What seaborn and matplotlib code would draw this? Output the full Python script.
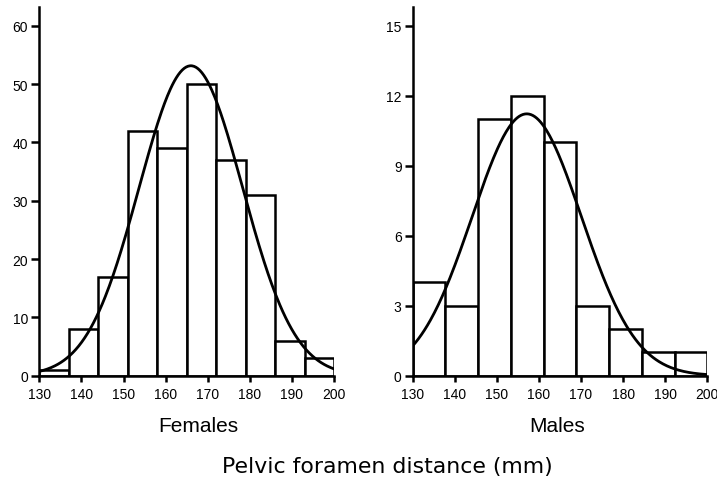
import numpy as np
import pandas as pd
import matplotlib
matplotlib.use("Agg")
import matplotlib.pyplot as plt
import seaborn as sns

# ---- data ----
fem_edges = [130, 137, 144, 151, 158, 165, 172, 179, 186, 193, 200]
fem_counts = [1, 8, 17, 42, 39, 50, 37, 31, 6, 3]
fem_mean, fem_sd = 166.0, 12.3

male_edges = [130, 137.78, 145.56, 153.33, 161.11, 168.89, 176.67, 184.44, 192.22, 200]
male_counts = [4, 3, 11, 12, 10, 3, 2, 1, 1]
male_mean, male_sd = 157.1, 13.0

fem_yticks = [0, 10, 20, 30, 40, 50, 60]
male_yticks = [0, 3, 6, 9, 12, 15]
xticks = [130, 140, 150, 160, 170, 180, 190, 200]

sns.set_theme(style="white")
plt.rcParams['font.family'] = ['Liberation Sans', 'DejaVu Sans']

fig = plt.figure(figsize=(7.17, 4.85), dpi=100)
W, H = 717, 485

def make_ax(x0px, x1px):
    y0, y1 = 376.7, 8.0
    return fig.add_axes([x0px / W, 1 - y0 / H, (x1px - x0px) / W, (y0 - y1) / H])

ax1 = make_ax(39.3, 334.0)
ax2 = make_ax(412.7, 707.3)

def panel(ax, edges, counts, mean, sd, yticks, ytop):
    e = np.array(edges, dtype=float)
    centers = (e[:-1] + e[1:]) / 2
    df = pd.DataFrame({"x": centers, "w": counts})
    sns.histplot(data=df, x="x", weights="w", bins=list(edges), ax=ax,
                 color="white", edgecolor="black", linewidth=1.8, alpha=1.0)
    n = sum(counts)
    bw = e[1] - e[0]
    xs = np.linspace(130, 200, 300)
    ys = n * bw * np.exp(-0.5 * ((xs - mean) / sd) ** 2) / (sd * np.sqrt(2 * np.pi))
    sns.lineplot(x=xs, y=ys, ax=ax, color="black", linewidth=2.0)
    ax.set_xlim(130, 200)
    ax.set_ylim(0, ytop)
    ax.set_xticks(xticks)
    ax.set_yticks(yticks)
    ax.set_xlabel("")
    ax.set_ylabel("")
    for s in ["top", "right"]:
        ax.spines[s].set_visible(False)
    for s in ["left", "bottom"]:
        ax.spines[s].set_color("black")
        ax.spines[s].set_linewidth(1.8)
    ax.tick_params(axis="x", direction="out", length=4, width=1.8, pad=4,
                   labelsize=10, colors="black", bottom=True)
    ax.tick_params(axis="y", direction="out", length=6, width=1.8, pad=2,
                   labelsize=10, colors="black", left=True)
    ax.patch.set_alpha(0)

panel(ax1, fem_edges, fem_counts, fem_mean, fem_sd, fem_yticks, 63.2)
panel(ax2, male_edges, male_counts, male_mean, male_sd, male_yticks, 15.8)

fig.text(198.7 / W, 1 - 427 / H, "Females", ha="center", va="center",
         fontsize=15, color="black")
fig.text(557.5 / W, 1 - 427 / H, "Males", ha="center", va="center",
         fontsize=15, color="black")
fig.text(387 / W, 1 - 467 / H, "Pelvic foramen distance (mm)", ha="center",
         va="center", fontsize=15.8, color="black", family="DejaVu Sans")

fig.savefig("out.png", dpi=100)
